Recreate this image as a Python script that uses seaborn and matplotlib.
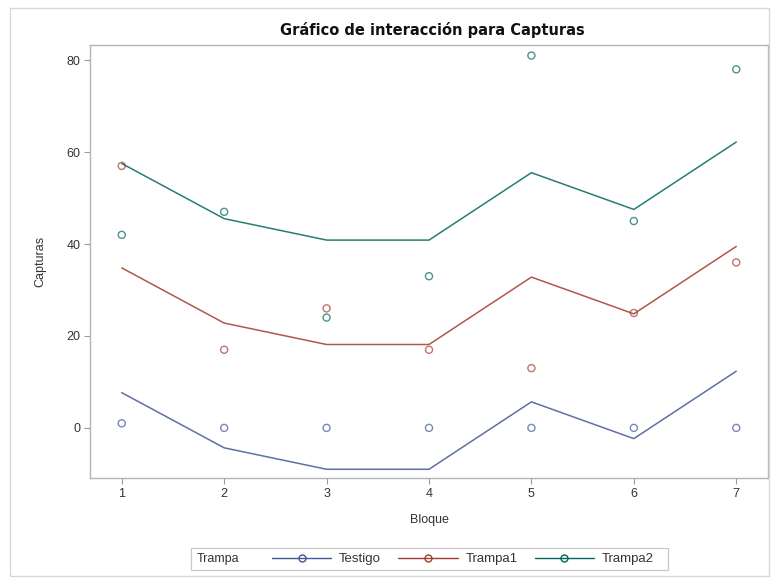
import numpy as np
import pandas as pd
import matplotlib
matplotlib.use("Agg")
import matplotlib.pyplot as plt
from matplotlib.lines import Line2D
from matplotlib.patches import Rectangle
import seaborn as sns

# ---- data ----
bloques = [1, 2, 3, 4, 5, 6, 7]
testigo = [1, 0, 0, 0, 0, 0, 0]
trampa1 = [57, 17, 26, 17, 13, 25, 36]
trampa2 = [42, 47, 24, 33, 81, 45, 78]
grupos = ["Testigo", "Trampa1", "Trampa2"]
colores = ["#445694", "#A23A2E", "#01665E"]
y_ticks = [0, 20, 40, 60, 80]

obs = pd.DataFrame({
    "Bloque": bloques * 3,
    "Capturas": testigo + trampa1 + trampa2,
    "Trampa": [g for g in grupos for _ in bloques],
})

# additive (block + treatment) model fitted values
grand = obs["Capturas"].mean()
bmean = obs.groupby("Bloque")["Capturas"].transform("mean")
tmean = obs.groupby("Trampa")["Capturas"].transform("mean")
fit = obs.copy()
fit["Capturas"] = bmean + tmean - grand

sns.set_theme(style="white")
plt.rcParams["font.family"] = ["Liberation Sans", "DejaVu Sans"]

fig = plt.figure(figsize=(7.72, 5.82), dpi=100)
W, H = 772, 582
ax = fig.add_axes([90 / W, 1 - 478 / H, (768 - 90) / W, (478 - 45) / H])

pal = dict(zip(grupos, colores))
sns.lineplot(data=fit, x="Bloque", y="Capturas", hue="Trampa", palette=pal,
             linewidth=1.1, alpha=0.85, ax=ax, legend=False, sort=True)
for g, c in pal.items():
    d = obs[obs["Trampa"] == g]
    sns.scatterplot(x=d["Bloque"], y=d["Capturas"], ax=ax, marker="o", s=26,
                    facecolors="none", edgecolors=c, linewidth=1.0, alpha=0.7,
                    legend=False)

ax.set_xlim(0.69, 7.31)
ax.set_ylim(-10.9, 83.3)
ax.set_xticks(bloques)
ax.set_yticks(y_ticks)
ax.tick_params(axis="both", length=4, width=0.8, color="#9a9a9a",
               labelsize=9, labelcolor="#333333", direction="out",
               bottom=True, left=True, pad=3)
for s in ax.spines.values():
    s.set_color("#b4b4b4")
    s.set_linewidth(1.0)
ax.set_xlabel("Bloque", fontsize=9, color="#333333", labelpad=10)
ax.set_ylabel("Capturas", fontsize=9, color="#333333", labelpad=14)

fig.text(432 / W, 1 - 30 / H, "Gráfico de interacción para Capturas",
         ha="center", va="center", fontsize=10.5, fontweight="bold",
         family="DejaVu Sans", color="#111111")

# outer frame
fig.patches.append(Rectangle((10 / W, 1 - 576 / H), (769 - 10) / W, (576 - 8) / H,
                             transform=fig.transFigure, fill=False,
                             edgecolor="#d8d8d8", linewidth=1.0))
# legend box
fig.patches.append(Rectangle((191 / W, 1 - 570 / H), (668 - 191) / W, (570 - 548) / H,
                             transform=fig.transFigure, fill=False,
                             edgecolor="#c8c8c8", linewidth=0.9))
fig.text(197 / W, 1 - 559 / H, "Trampa", ha="left", va="center",
         fontsize=9, color="#333333")
handles = [Line2D([], [], color=c, linewidth=1.0, marker="o", markersize=5,
                  markerfacecolor="none", markeredgecolor=c) for c in colores]
fig.legend(handles, grupos, ncol=3, frameon=False, loc="center",
           bbox_to_anchor=(463 / W, 1 - 559 / H), fontsize=9.5,
           handlelength=4.5, columnspacing=1.3, handletextpad=0.6,
           labelcolor="#333333")

fig.savefig("out.png", dpi=100, facecolor="white")
